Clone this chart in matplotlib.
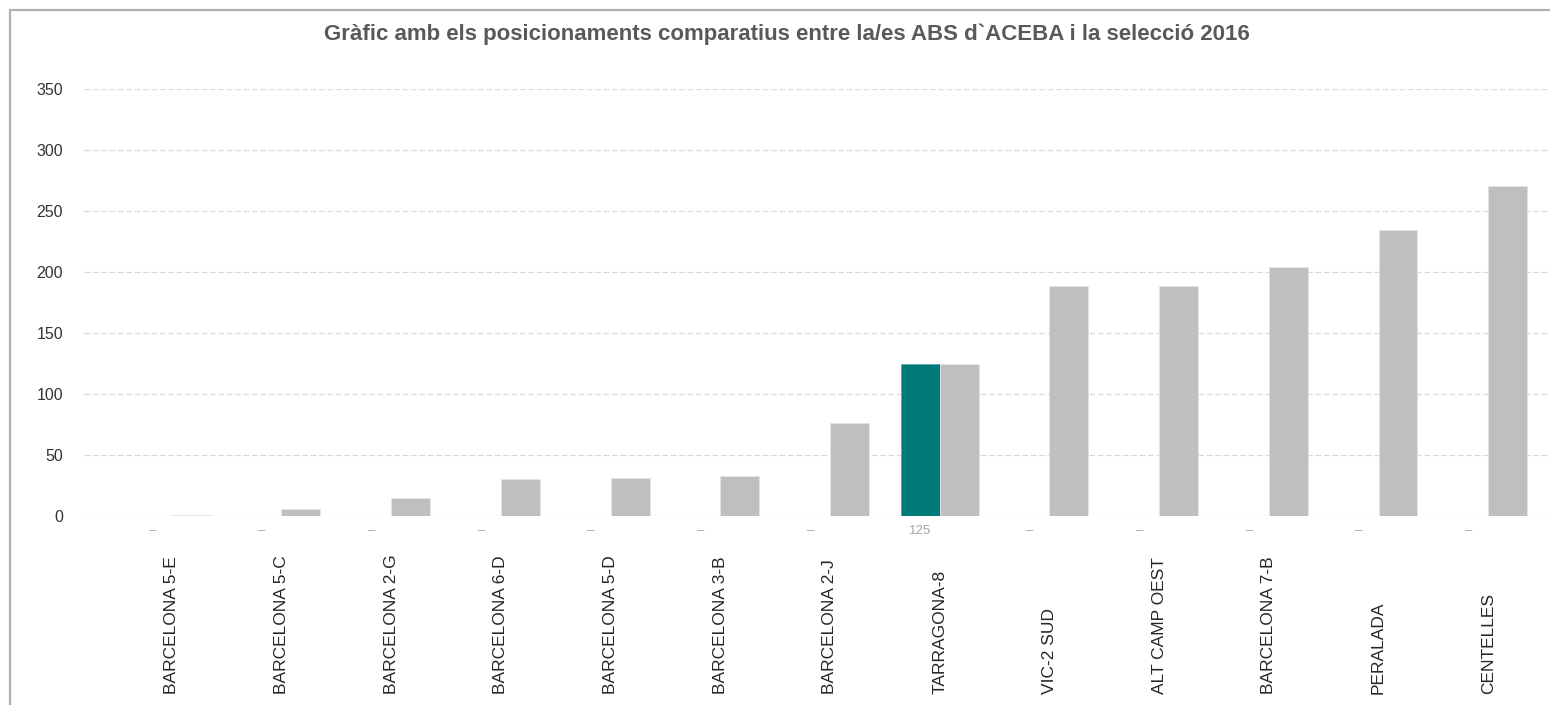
import matplotlib.pyplot as plt
import matplotlib.transforms as mtransforms
from matplotlib.patches import Rectangle
import numpy as np

plt.rcParams['font.family'] = ['Liberation Sans', 'DejaVu Sans']

# ABS names, sorted by position in the 2016 selection
categories = ['BARCELONA 5-E', 'BARCELONA 5-C', 'BARCELONA 2-G', 'BARCELONA 6-D',
              'BARCELONA 5-D', 'BARCELONA 3-B', 'BARCELONA 2-J', 'TARRAGONA-8',
              'VIC-2 SUD', 'ALT CAMP OEST', 'BARCELONA 7-B', 'PERALADA', 'CENTELLES']
aceba = [0, 0, 0, 0, 0, 0, 0, 125, 0, 0, 0, 0, 0]
seleccio = [1, 6, 15, 30, 31, 33, 76, 125, 189, 189, 204, 235, 271]
yticks = [0, 50, 100, 150, 200, 250, 300, 350]

title = "Gràfic amb els posicionaments comparatius entre la/es ABS d`ACEBA i la selecció 2016"

W, H = 1550, 705
fig = plt.figure(figsize=(W / 100, H / 100), dpi=100)

# chart area border (left and top edges visible)
fig.patches.append(Rectangle((10 / W, -0.1), 1.2, (H - 10) / H + 0.1,
                             transform=fig.transFigure, fill=False,
                             edgecolor='#b0b0b0', linewidth=1.6))

ax = fig.add_axes([84 / W, (H - 516) / H, (1576 - 84) / W, (516 - 89.3) / H])

x = np.arange(len(categories))
w = 0.355
ax.bar(x - w / 2, aceba, width=w, color='#007a78', edgecolor='#5aa9a6',
       linewidth=0.6, zorder=3)
ax.bar(x + w / 2, seleccio, width=w, color='#bfbfbf', edgecolor='#e4e4e4',
       linewidth=0.6, zorder=3)

ax.set_xlim(-0.8, len(categories) - 0.2)
ax.set_ylim(0, 350)
ax.set_yticks(yticks)
ax.set_yticklabels([str(v) for v in yticks], fontsize=11.5, color='#333333')
ax.tick_params(axis='y', length=0, pad=15)
ax.set_xticks([])
for s in ax.spines.values():
    s.set_visible(False)

for v in yticks:
    ax.axhline(v, color='#d9d9d9', linewidth=0.9, linestyle=(0, (4.5, 2.2)), zorder=1)

# data labels for the ACEBA series, zeros shown as a dash
trans = mtransforms.blended_transform_factory(ax.transData, fig.transFigure)
for xi, v in zip(x, aceba):
    ax.text(xi - w / 2, (H - 531) / H, str(v) if v else '–', transform=trans,
            ha='center', va='center', fontsize=9.5, color='#a6a6a6')

# category names, rotated
for xi, name in zip(x, categories):
    ax.text(xi, (H - 694) / H, name, transform=trans, rotation=90,
            ha='center', va='bottom', fontsize=12.5, color='#262626')

fig.text(787 / W, (H - 34) / H, title, ha='center', va='center',
         fontsize=16, fontweight='bold', color='#595959')

fig.savefig('out.png', dpi=100)
